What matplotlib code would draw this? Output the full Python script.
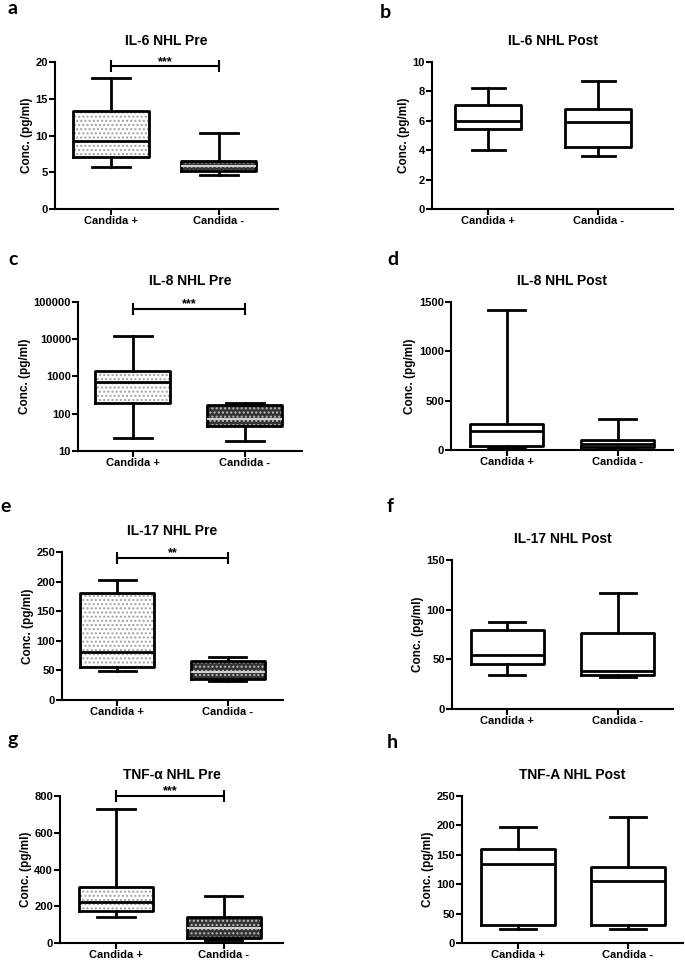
import matplotlib
matplotlib.use("Agg")
import matplotlib.pyplot as plt
from matplotlib.ticker import FixedLocator, FuncFormatter, NullLocator

plt.rcParams['font.family'] = ['Liberation Sans', 'DejaVu Sans']
plt.rcParams['font.weight'] = 'bold'
plt.rcParams['hatch.linewidth'] = 1.0

groups = ["Candida +", "Candida -"]

# per group: whisker low, Q1, median, Q3, whisker high
il6_pre = [[5.7, 7.1, 9.2, 13.4, 17.8], [4.6, 5.15, 5.8, 6.5, 10.3]]
il6_post = [[4.0, 5.42, 6.0, 7.07, 8.2], [3.6, 4.2, 5.9, 6.8, 8.7]]
il8_pre = [[23, 189, 697, 1436, 11900], [18.6, 46, 71, 167, 193]]
il8_post = [[20, 40, 193, 267, 1422], [14, 30, 65, 100, 318]]
il17_pre = [[48.6, 55, 81, 181.5, 202], [32.8, 35.6, 47.5, 66, 73]]
il17_post = [[34.2, 45.7, 54.5, 79.6, 88], [32.5, 34.2, 37.9, 76.5, 116.8]]
tnf_pre = [[140, 176, 221, 307, 729], [16, 27, 82, 143, 256]]
tnf_post = [[23, 30, 135, 160, 198], [23.7, 31, 105, 128.7, 214]]

titles = ["IL-6 NHL Pre", "IL-6 NHL Post", "IL-8 NHL Pre", "IL-8 NHL Post",
          "IL-17 NHL Pre", "IL-17 NHL Post", "TNF-α NHL Pre", "TNF-A NHL Post"]
letters = ["a", "b", "c", "d", "e", "f", "g", "h"]
yticks = [[0, 5, 10, 15, 20], [0, 2, 4, 6, 8, 10],
          [10, 100, 1000, 10000, 100000], [0, 500, 1000, 1500],
          [0, 50, 100, 150, 200, 250], [0, 50, 100, 150],
          [0, 200, 400, 600, 800], [0, 50, 100, 150, 200, 250]]
# significance bar height and stars for the "Pre" panels
sig_level = [19.4, None, 66000, None, 240, None, 800, None]
sig_text = ["***", None, "***", None, "**", None, "***", None]

panels = [il6_pre, il6_post, il8_pre, il8_post, il17_pre, il17_post, tnf_pre, tnf_post]

W, H = 685, 960
# axes rectangles in pixels: left, top, right, bottom
rects = [(55, 62, 278, 209), (432, 62, 673, 209),
         (78, 302, 302, 451), (451, 302, 673, 450),
         (62, 552, 283, 700), (452, 560, 673, 709),
         (60, 796, 283, 943), (462, 796, 683, 943)]
xlims = [(0.48, 2.55), (0.49, 2.68), (0.51, 2.51), (0.5, 2.5),
         (0.5, 2.5), (0.5, 2.5), (0.48, 2.55), (0.49, 2.5)]
box_w = [0.7, 0.6, 0.67, 0.66, 0.67, 0.66, 0.69, 0.67]
letter_pos = [(8, 14), (380, 18), (8, 265), (387, 265),
              (0, 512), (387, 512), (8, 745), (387, 748)]

fig = plt.figure(figsize=(W / 100, H / 100), dpi=100)

for i, vals in enumerate(panels):
    l, t, r, b = rects[i]
    ax = fig.add_axes([l / W, 1 - b / H, (r - l) / W, (b - t) / H])
    stats = [dict(whislo=v[0], q1=v[1], med=v[2], q3=v[3], whishi=v[4], label=g)
             for v, g in zip(vals, groups)]
    pre = (i % 2 == 0)
    if i == 2:
        ax.set_yscale('log')

    if pre:
        fill = ax.bxp(stats, positions=[1, 2], widths=box_w[i], patch_artist=True,
                      showcaps=False, showfliers=False, boxprops=dict(linewidth=0),
                      whiskerprops=dict(linewidth=0), medianprops=dict(linewidth=0))
        styles = [("white", "....", "#a0a0a0"), ("#333333", "....", "#bdbdbd")]
        for patch, (fc, hatch, hc) in zip(fill['boxes'], styles):
            patch.set_facecolor(fc)
            patch.set_hatch(hatch)
            patch.set_edgecolor(hc)

    out = ax.bxp(stats, positions=[1, 2], widths=box_w[i], showfliers=False,
                 boxprops=dict(color='black', linewidth=2),
                 whiskerprops=dict(color='black', linewidth=2),
                 capprops=dict(color='black', linewidth=2),
                 medianprops=dict(color='black', linewidth=2))
    if pre:
        out['medians'][1].set_color('#cfcfcf')
        out['medians'][1].set_linewidth(1.5)

    ax.set_xlim(*xlims[i])
    ax.set_ylim(yticks[i][0], yticks[i][-1])
    ax.yaxis.set_major_locator(FixedLocator(yticks[i]))
    ax.yaxis.set_minor_locator(NullLocator())
    ax.yaxis.set_major_formatter(FuncFormatter(lambda v, p: f"{v:g}" if v < 1e5 else "100000"))
    ax.set_xticks([1, 2], groups)

    for s in ['top', 'right']:
        ax.spines[s].set_visible(False)
    for s in ['left', 'bottom']:
        ax.spines[s].set_linewidth(1.5)
    ax.tick_params(direction='out', length=4, width=1.5, labelsize=8, pad=1)
    for lab in ax.get_xticklabels() + ax.get_yticklabels():
        lab.set_fontweight('bold')

    ax.set_ylabel("Conc. (pg/ml)", fontsize=8.5, fontweight='bold', labelpad=2)
    ax.set_title(titles[i], fontsize=10, fontweight='bold', pad=12)

    if sig_level[i] is not None:
        y = sig_level[i]
        ax.plot([1, 2], [y, y], color='black', linewidth=1.5, marker='|',
                markersize=8, markeredgewidth=1.5, clip_on=False)
        ax.annotate(sig_text[i], xy=(1.5, y), xytext=(0, -1), textcoords='offset points',
                    ha='center', va='bottom', fontsize=9, fontweight='bold',
                    annotation_clip=False)

    lx, ly = letter_pos[i]
    fig.text(lx / W, 1 - ly / H, letters[i], fontsize=14, fontweight='bold',
             family=['Lato', 'DejaVu Sans'], ha='left', va='baseline')

fig.savefig("out.png", dpi=100)
